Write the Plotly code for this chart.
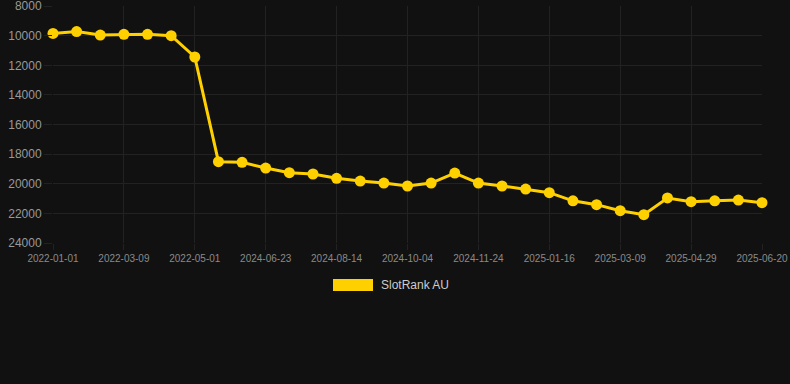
import plotly.graph_objects as go

dates = [
    "2022-01-01", "2022-01-23", "2022-02-14", "2022-03-09", "2022-03-26", "2022-04-13", "2022-05-01",
    "2024-05-20", "2024-06-06", "2024-06-23", "2024-07-10", "2024-07-27", "2024-08-14", "2024-08-31",
    "2024-09-17", "2024-10-04", "2024-10-21", "2024-11-07", "2024-11-24", "2024-12-11", "2024-12-29",
    "2025-01-16", "2025-02-02", "2025-02-19", "2025-03-09", "2025-03-26", "2025-04-12", "2025-04-29",
    "2025-05-16", "2025-06-02", "2025-06-20",
]
ranks = [
    9850, 9720, 9960, 9910, 9910, 10000, 11440,
    18510, 18550, 18940, 19250, 19340, 19630, 19820,
    19950, 20150, 19950, 19280, 19950, 20150, 20360,
    20600, 21150, 21410, 21820, 22090, 20960, 21210,
    21150, 21100, 21280,
]
tick_dates = dates[::3]
y_ticks = [8000, 10000, 12000, 14000, 16000, 18000, 20000, 22000, 24000]
series_name = "SlotRank AU"

gold = "#FFD000"
bg = "#111111"
grid = "#222222"

fig = go.Figure()
fig.add_trace(go.Scatter(
    x=dates, y=ranks, mode="lines+markers", name=series_name,
    line=dict(color=gold, width=3),
    marker=dict(color=gold, size=11),
    showlegend=False, cliponaxis=False,
))

fig.update_layout(
    width=790, height=384,
    paper_bgcolor=bg, plot_bgcolor=bg,
    margin=dict(l=53, r=28, t=6, b=141, autoexpand=False),
    font=dict(family="Liberation Sans, Arial, sans-serif", color="#999999"),
    xaxis=dict(
        type="category", range=[0, len(dates) - 1],
        tickmode="array", tickvals=tick_dates, ticktext=tick_dates,
        tickfont=dict(size=10, color="#8a8a8a"),
        showgrid=True, gridcolor=grid, gridwidth=1,
        zeroline=False, showline=False,
        ticks="outside", ticklen=6, tickcolor=grid,
    ),
    yaxis=dict(
        range=[24000, 7995], tickmode="array", tickvals=y_ticks,
        ticktext=[str(v) for v in y_ticks],
        tickfont=dict(size=12, color="#999999"),
        showgrid=True, gridcolor=grid, gridwidth=1,
        zeroline=False, showline=False,
        ticks="outside", ticklen=8, tickcolor=grid,
        ticklabeloverflow="allow",
    ),
    shapes=[dict(
        type="rect", xref="paper", yref="paper",
        x0=(333 - 53) / 709, x1=(373 - 53) / 709,
        y0=(384 - 141 - 291) / 237, y1=(384 - 141 - 279) / 237,
        fillcolor=gold, line=dict(width=0),
    )],
    annotations=[dict(
        text=series_name, xref="paper", yref="paper",
        x=(379 - 53) / 709, y=(384 - 141 - 285) / 237,
        xanchor="left", yanchor="middle", showarrow=False,
        font=dict(size=12, color="#cccccc"),
    )],
)

fig.write_html("out.html")
